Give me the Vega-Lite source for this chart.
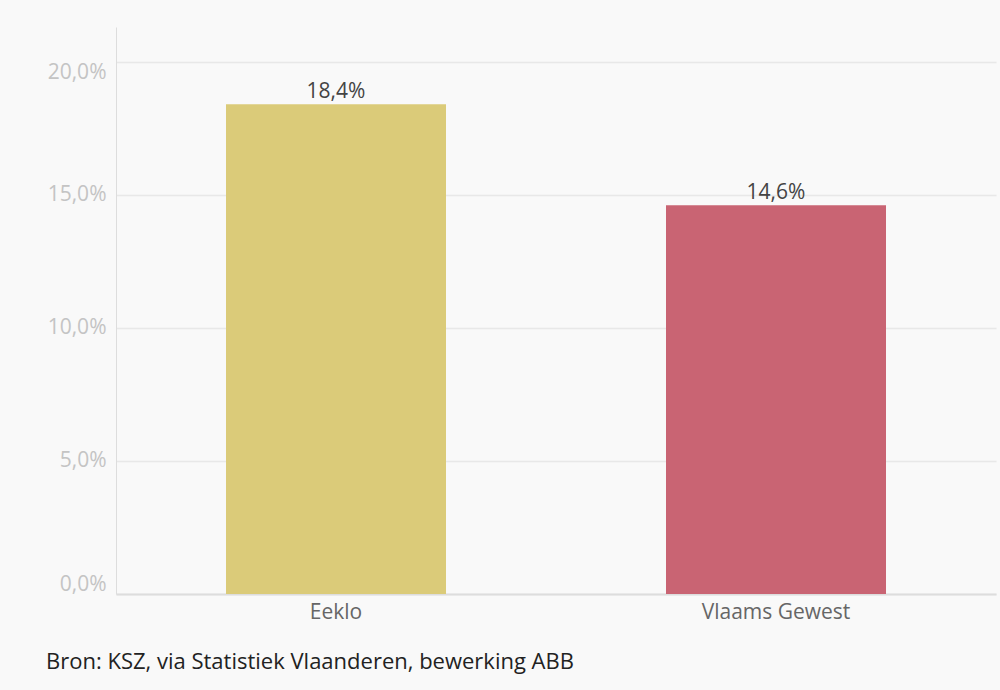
{
  "$schema": "https://vega.github.io/schema/vega-lite/v6.json",
  "autosize": "none",
  "width": 880,
  "height": 567,
  "padding": {"left": 116, "top": 27, "right": 4, "bottom": 96},
  "background": "#f9f9f9",
  "config": {
    "locale": {"number": {"decimal": ",", "thousands": ".", "grouping": [3], "currency": ["€", ""]}},
    "font": "Open Sans",
    "view": {"stroke": null}
  },
  "title": {
    "text": "Bron: KSZ, via Statistiek Vlaanderen, bewerking ABB",
    "orient": "bottom",
    "anchor": "start",
    "frame": "group",
    "dx": -70,
    "offset": 30,
    "fontSize": 22,
    "fontWeight": "normal",
    "color": "#222222",
    "font": "Open Sans"
  },
  "data": {
    "values": [
      {"regio": "Eeklo", "waarde": 0.184},
      {"regio": "Vlaams Gewest", "waarde": 0.146}
    ]
  },
  "encoding": {
    "x": {
      "field": "regio",
      "type": "nominal",
      "sort": null,
      "scale": {"paddingInner": 0.5, "paddingOuter": 0.25},
      "axis": {
        "title": null,
        "labelAngle": 0,
        "ticks": false,
        "labelFontSize": 21,
        "labelColor": "#666666",
        "labelPadding": 7,
        "domainColor": "#dddddd",
        "domainWidth": 2
      }
    },
    "y": {
      "field": "waarde",
      "type": "quantitative",
      "scale": {"domain": [0, 0.213], "nice": false},
      "axis": {
        "title": null,
        "values": [0, 0.05, 0.1, 0.15, 0.2],
        "format": ".1%",
        "ticks": false,
        "labelFontSize": 21,
        "labelColor": "#c4c4c4",
        "labelPadding": 10,
        "labelFlush": 40,
        "domainColor": "#dddddd",
        "gridColor": "#e8e8e8",
        "gridWidth": 1.5
      }
    }
  },
  "layer": [
    {
      "mark": {"type": "bar"},
      "encoding": {
        "color": {
          "field": "regio",
          "type": "nominal",
          "scale": {"domain": ["Eeklo", "Vlaams Gewest"], "range": ["#dbcb79", "#c96473"]},
          "legend": null
        }
      }
    },
    {
      "mark": {"type": "text", "baseline": "bottom", "dy": -2, "fontSize": 21, "color": "#444444"},
      "encoding": {
        "text": {"field": "waarde", "type": "quantitative", "format": ".1%"}
      }
    }
  ]
}
